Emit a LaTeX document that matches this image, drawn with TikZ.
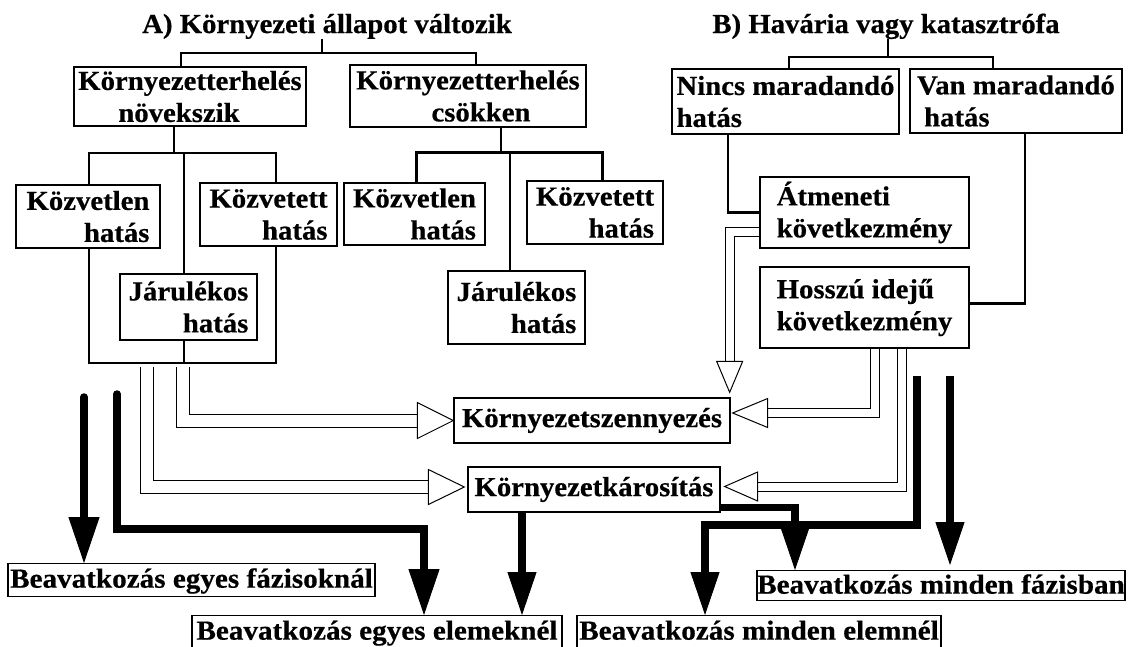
\documentclass[tikz,border=0pt]{standalone}
\usepackage{fontspec}
\newfontfamily\mainfam{Liberation Serif}[FakeStretch=1.045,FakeBold=0.5]
\newfontfamily\botfam{Liberation Serif}[FakeStretch=1.06,FakeBold=0.5]
\newcommand\bxfont{\mainfam\bfseries\fontsize{27.5}{32}\selectfont}
\newcommand\btfont{\botfam\bfseries\fontsize{27.5}{32}\selectfont}
\usetikzlibrary{arrows.meta,calc}
\begin{document}
\begin{tikzpicture}[x=1pt,y=-1pt,line join=miter,
  box/.style={draw,line width=1.3pt,inner sep=0pt,font=\bxfont,align=center},
  bbox/.style={draw,line width=1.3pt,inner xsep=0pt,inner ysep=2pt,font=\btfont,text height=22pt,text depth=7pt,anchor=north},
  titlef/.style={font=\bxfont,inner sep=0pt,anchor=base},
  tree/.style={line width=2.6pt},
  thk/.style={line width=7.5pt,-{Triangle[width=29pt,length=43pt,line width=1pt]}},
  thkL/.style={line width=7.5pt,-{Triangle[width=31pt,length=46pt,line width=1pt]}},
  hollowL/.style={line width=1pt,double=white,double distance=12pt},
  hollowR/.style={line width=1pt,double=white,double distance=8pt},
  ohead/.style={draw,fill=white,line width=1pt}]
\fill[white] (0,0) rectangle (1129,646);
\clip (0,0) rectangle (1129,646);
% titles
\node[titlef] (tA) at (327,33) {A) Környezeti állapot változik};
\node[titlef] (tB) at (886,33) {B) Havária vagy katasztrófa};
% boxes A
\node[box,minimum width=232pt,minimum height=59pt] (nov) at (190,96.5) {Környezetterhelés\\növekszik\hbox to 22pt{}};
\node[box,minimum width=236pt,minimum height=62pt] (csok) at (468,96) {Környezetterhelés\\\hbox to 26pt{}csökken};
\node[box,align=right,minimum width=144pt,minimum height=63pt] (kv1) at (88,216.5) {Közvetlen\\hatás};
\node[box,align=right,minimum width=137pt,minimum height=63pt] (kt1) at (268.5,214.5) {Közvetett\\hatás};
\node[box,align=right,minimum width=137pt,minimum height=66pt] (jr1) at (188.5,307) {Járulékos\\hatás};
\node[box,align=right,minimum width=141pt,minimum height=62pt] (kv2) at (414.5,214) {Közvetlen\\hatás};
\node[box,align=right,minimum width=136pt,minimum height=63pt] (kt2) at (595,212.5) {Közvetett\\hatás};
\node[box,align=right,minimum width=137pt,minimum height=73pt] (jr2) at (516.5,307.5) {Járulékos\\hatás};
% boxes B
\node[box,align=left,minimum width=227pt,minimum height=65pt] (nincs) at (785.5,101.5) {Nincs maradandó\\hatás};
\node[box,align=left,minimum width=212pt,minimum height=64pt] (van) at (1016,101) {Van maradandó\\\hbox to 7pt{}hatás};
\node[box,align=left,minimum width=209pt,minimum height=71pt] (atm) at (864.5,212.5) {Átmeneti\\következmény};
\node[box,align=left,minimum width=209pt,minimum height=81pt] (hossz) at (864.5,307.5) {Hosszú idejű\\következmény};
% middle boxes
\node[box,minimum width=276pt,minimum height=45pt] (szenny) at (592,420.5) {Környezetszennyezés};
\node[box,minimum width=252pt,minimum height=45pt] (karos) at (594,489.5) {Környezetkárosítás};
% bottom boxes
\node[bbox,minimum width=367pt] (egyfaz) at (191.5,563) {Beavatkozás egyes fázisoknál};
\node[bbox,minimum width=370pt] (egyelem) at (377,615) {Beavatkozás egyes elemeknél};
\node[bbox,minimum width=364pt] (mindelem) at (759,615) {Beavatkozás minden elemnél};
\node[bbox,minimum width=368pt,text height=21pt,text depth=4.5pt] (mindfaz) at (941,570) {Beavatkozás minden fázisban};
% tree A
\draw[tree] (tA.south -| 322,0) -- (322,53);
\draw[tree] (181,0 |- nov.north) |- (476,53) -- (476,0 |- csok.north);
\draw[tree] (174,0 |- nov.south) -- (174,153);
\draw[tree] (89,0 |- kv1.north) |- (276,153) -- (276,0 |- kt1.north);
\draw[tree] (184,153) -- (184,0 |- jr1.north);
\draw[tree] (89,0 |- kv1.south) -- (89,363) -- (276,363) -- (276,0 |- kt1.south);
\draw[tree] (184,0 |- jr1.south) -- (184,363);
\draw[tree] (501,0 |- csok.south) -- (501,152.7);
\draw[tree] (416.7,0 |- kv2.north) |- (602.7,152.7) -- (602.7,0 |- kt2.north);
\draw[tree] (510,152.7) -- (510,0 |- jr2.north);
% tree B
\draw[tree] (tB.south -| 888,0) -- (888,57);
\draw[tree] (789,0 |- nincs.north) |- (993,57) -- (993,0 |- van.north);
\draw[tree] (728,0 |- nincs.south) |- (atm.west);
\draw[tree] (1025,0 |- van.south) |- ($(hossz.east)+(0,-4)$);
% hollow arrows
\coordinate (L1) at (182.5,367);
\coordinate (L2) at (146.7,367);
\coordinate (t1) at (szenny.west);
\coordinate (t2) at ($(karos.west)+(-3,-2.5)$);
\coordinate (t3) at ($(szenny.east)+(2,-7.5)$);
\coordinate (t4) at ($(karos.east)+(4,-3)$);
\coordinate (t5) at ($(szenny.north east)+(-1,-5)$);
\draw[hollowL] (L1) |- ($(t1)+(-36,0)$);
\filldraw[ohead] (t1) -- ++(-36,-18) -- ++(0,36) -- cycle;
\draw[hollowL] (L2) |- ($(t2)+(-36,0)$);
\filldraw[ohead] (t2) -- ++(-36,-17.5) -- ++(0,35) -- cycle;
\draw[hollowR] (875,0 |- hossz.south) |- ($(t3)+(35,0)$);
\filldraw[ohead] (t3) -- ++(35,-14.5) -- ++(0,29) -- cycle;
\draw[hollowR] (901.5,0 |- hossz.south) |- ($(t4)+(33,0)$);
\filldraw[ohead] (t4) -- ++(33,-14.5) -- ++(0,29) -- cycle;
\draw[hollowR] ($(atm.west)+(0,19)$) -| ($(t5)+(0,-31)$);
\filldraw[ohead] (t5) -- ++(-13,-31) -- ++(26,0) -- cycle;
% thick arrows
\draw[thkL,line cap=round] (84,397) -- (84,0 |- egyfaz.north);
\draw[thkL,line cap=round] (117,394) -- (117,529) -- (424,529) -- (424,0 |- egyelem.north);
\draw[thk] (522,0 |- karos.south) -- (522,0 |- egyelem.north);
\draw[thk] ($(karos.south east)+(0,-5)$) -| (795,0 |- mindfaz.north);
\draw[thk] (917,376) -- (917,525) -- (705,525) -- (705,0 |- mindelem.north);
\draw[thk] (950,376) -- ($(950,0 |- mindfaz.north)+(0,-5)$);
\end{tikzpicture}
\end{document}
